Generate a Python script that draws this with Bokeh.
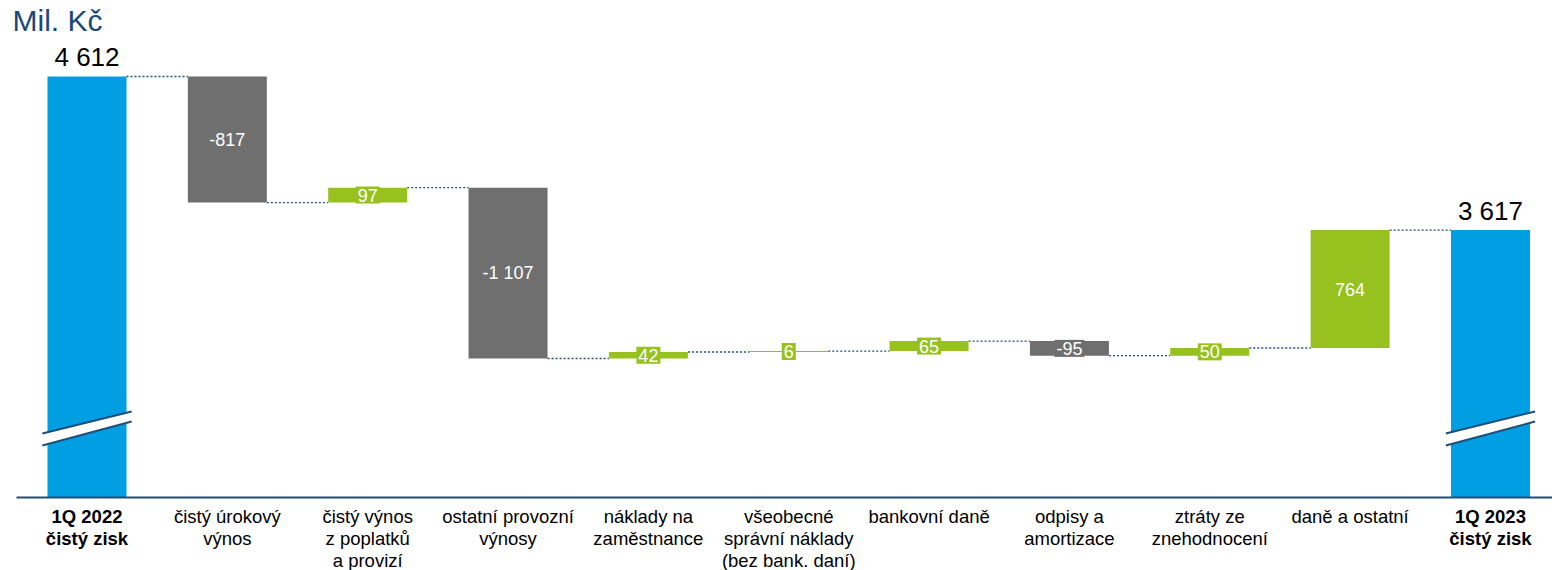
from bokeh.plotting import figure
from bokeh.models import ColumnDataSource, Range1d
from bokeh.core.properties import value
from bokeh.embed import file_html
from bokeh.resources import INLINE

# ---------------- data ----------------
categories = [
    "1Q 2022\nčistý zisk",
    "čistý úrokový\nvýnos",
    "čistý výnos\nz poplatků\na provizí",
    "ostatní provozní\nvýnosy",
    "náklady na\nzaměstnance",
    "všeobecné\nsprávní náklady\n(bez bank. daní)",
    "bankovní daně",
    "odpisy a\namortizace",
    "ztráty ze\nznehodnocení",
    "daně a ostatní",
    "1Q 2023\nčistý zisk",
]
start_total = 4612
end_total = 3617
deltas = [-817, 97, -1107, 42, 6, 65, -95, 50, 764]
unit_label = "Mil. Kč"

# ---------------- layout / styles ----------------
BLUE = "#009FE3"
GRAY = "#6F6F6F"
GREEN = "#97C11F"
NAVY = "#1F4E79"
FONT = "Liberation Sans"
W = 0.563
WIDTH, HEIGHT = 1552, 570
X0, X1 = -0.6163, 10.442
Y0, Y1 = 1411.4, 5104.4
PX = (Y1 - Y0) / HEIGHT          # data units per pixel (vertical)
PXX = (X1 - X0) / WIDTH          # data units per pixel (horizontal)
AXIS_BASE = Y1 - 497 * PX        # broken value axis baseline


def fmt(v):
    return f"{v:,}".replace(",", " ")


n = len(categories)
xs = list(range(n))

levels = [start_total]
for d in deltas:
    levels.append(levels[-1] + d)

# totals
tot_x = [0, n - 1]
tot_v = [start_total, end_total]
src_tot = ColumnDataSource(dict(
    x=tot_x, top=tot_v, bottom=[AXIS_BASE] * 2,
    label=[fmt(v) for v in tot_v],
    ly=[v + 19.5 * PX for v in tot_v]))

# deltas
dx = xs[1:-1]
d_bottom = [min(levels[i], levels[i + 1]) for i in range(len(deltas))]
d_top = [max(levels[i], levels[i + 1]) for i in range(len(deltas))]
d_col = [GREEN if d > 0 else GRAY for d in deltas]
d_mid = [(b + t) / 2 for b, t in zip(d_bottom, d_top)]
src_d = ColumnDataSource(dict(x=dx, bottom=d_bottom, top=d_top, color=d_col,
                              mid=d_mid, label=[fmt(d) for d in deltas]))

# connectors
src_c = ColumnDataSource(dict(
    x0=[i + W / 2 for i in range(n - 1)],
    x1=[i + 1 - W / 2 for i in range(n - 1)],
    y=[levels[i] for i in range(n - 1)],
))

p = figure(width=WIDTH, height=HEIGHT,
           x_range=Range1d(X0, X1), y_range=Range1d(Y0, Y1),
           output_backend="svg", toolbar_location=None,
           min_border_left=0, min_border_right=0, min_border_top=0,
           min_border_bottom=0)
p.xaxis.visible = False
p.yaxis.visible = False
p.xgrid.visible = False
p.ygrid.visible = False
p.outline_line_color = None
p.background_fill_color = "white"
p.border_fill_color = "white"

p.segment(x0="x0", x1="x1", y0="y", y1="y", source=src_c,
          line_color=NAVY, line_width=1.3, line_dash="2 2")

p.vbar(x="x", top="top", bottom="bottom", width=W, source=src_tot,
       fill_color=BLUE, line_color=None)
p.vbar(x="x", top="top", bottom="bottom", width=W, source=src_d,
       fill_color="color", line_color=None)

# axis break marks on the total bars
for i in tot_x:
    xl, xr = i - 0.318, i + 0.318
    ya, yb = AXIS_BASE + 64 * PX, AXIS_BASE + 86 * PX
    yc, yd = AXIS_BASE + 52 * PX, AXIS_BASE + 76 * PX
    p.patch([xl, xr, xr, xl], [ya, yb, yd, yc],
            fill_color="white", line_color=None)
    p.multi_line([[xl, xr], [xl, xr]], [[ya, yb], [yc, yd]],
                 line_color=NAVY, line_width=2)

# category axis line
p.segment(x0=[X0 + 16 * PXX], x1=[X1], y0=[AXIS_BASE], y1=[AXIS_BASE],
          line_color=NAVY, line_width=2)

# total labels
p.text(x="x", y="ly", text="label", source=src_tot,
       text_align="center", text_baseline="alphabetic",
       text_font=value(FONT), text_font_size="26px", text_color="black")

# delta labels
p.text(x="x", y="mid", text="label", source=src_d,
       text_align="center", text_baseline="middle",
       text_font=value(FONT), text_font_size="18px", text_color="white",
       background_fill_color="color", padding=2)

# category labels
src_cat = ColumnDataSource(dict(
    x=xs, y=[AXIS_BASE - 8 * PX] * n, text=categories,
    style=["bold" if i in (0, n - 1) else "normal" for i in xs]))
p.text(x="x", y="y", text="text", source=src_cat,
       text_align="center", text_baseline="top",
       text_font=value(FONT), text_font_size="18.5px",
       text_font_style="style", text_line_height=1.07, text_color="black")

# unit label
p.text(x=[X0 + 12 * PXX], y=[Y1 - 20 * PX], text=[unit_label],
       text_font=value(FONT), text_font_size="30px", text_color="#17497A",
       text_baseline="alphabetic", text_align="left")

open("out.html", "w").write(file_html(p, INLINE))
